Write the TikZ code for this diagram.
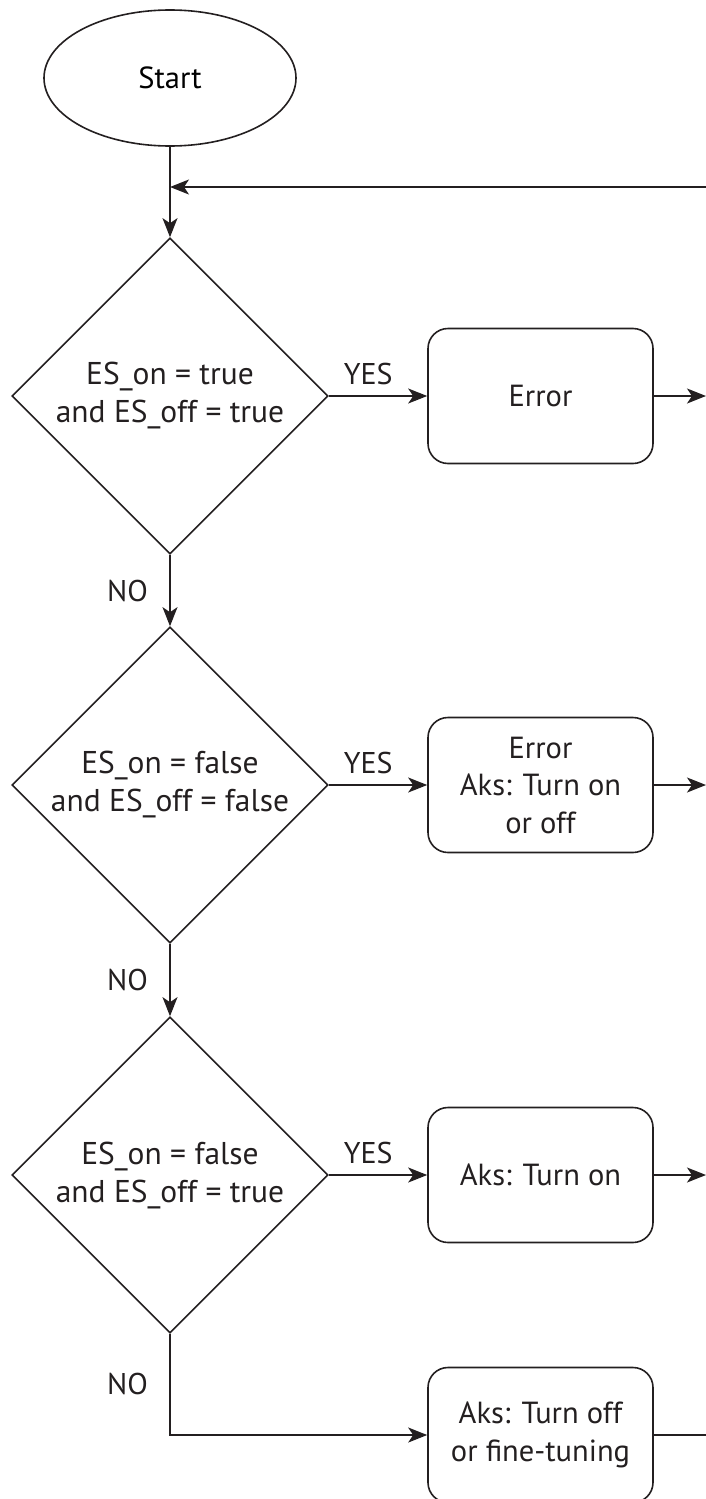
\documentclass[tikz,border=0pt]{standalone}
\usepackage{fontspec}
\setmainfont{PT Sans}
\definecolor{inkblack}{RGB}{35, 31, 32}
\usetikzlibrary{arrows.meta, shapes.geometric}
\tikzset{
	terminal/.style={ellipse, draw=inkblack, line width=1.6pt, minimum width=252pt, minimum height=136pt, inner sep=0pt, font=\fontsize{30.5}{35}\selectfont},
	decision/.style={diamond, aspect=1, draw=inkblack, line width=1.6pt, minimum width=316pt, minimum height=316pt, inner sep=0pt},
	condtext/.style={align=center, font=\fontsize{31.5}{38}\selectfont, text=inkblack},
	process/.style={rectangle, rounded corners=20pt, draw=inkblack, line width=1.6pt, minimum width=225pt, minimum height=135pt, align=center, font=\fontsize{30.5}{37.5}\selectfont, text=inkblack},
	branch/.style={font=\fontsize{30}{35}\selectfont, text=inkblack},
	arrow/.style={-{Stealth[length=19pt, width=15pt, inset=5pt]}, line width=1.6pt, draw=inkblack},
	plain/.style={line width=1.6pt, draw=inkblack},
}
\begin{document}
\begin{tikzpicture}[x=1pt, y=-1pt]
		\useasboundingbox (0,0) rectangle (706,1499);
		\node[terminal] (start) at (170,78) {Start};
		\node[decision] (d1) at (170,396) {};
		\node[condtext] (d1text) at (d1) {ES\_on = true\\and ES\_off = true};
		\node[decision] (d2) at (170,785) {};
		\node[condtext] (d2text) at (d2) {ES\_on = false\\and ES\_off = false};
		\node[decision] (d3) at (170,1175) {};
		\node[condtext] (d3text) at (d3) {ES\_on = false\\and ES\_off = true};
		\node[process] (b1) at (540.5,396) {Error};
		\node[process] (b2) at (540.5,785) {Error\\Aks: Turn on\\or off};
		\node[process] (b3) at (540.5,1175) {Aks: Turn on};
		\node[process] (b4) at (540.5,1435) {Aks: Turn off\\or fine-tuning};
		\coordinate (loopin) at (706,187);
		\coordinate (out1) at (706,396);
		\coordinate (out2) at (706,785);
		\coordinate (out3) at (706,1175);
		\coordinate (out4) at (706,1435);
		% main line
		\draw[arrow] (start) -- (d1);
		\draw[arrow] (loopin) -- (loopin -| start);
		\draw[arrow] (d1) -- node[branch, left, xshift=-18pt] {NO} (d2);
		\draw[arrow] (d2) -- node[branch, left, xshift=-18pt] {NO} (d3);
		\draw[arrow] (d3) |- node[branch, left, pos=0.25, xshift=-18pt] {NO} (b4);
		% yes branches
		\draw[arrow] (d1) -- node[branch, above, pos=0.4, yshift=7pt] {YES} (b1);
		\draw[arrow] (d2) -- node[branch, above, pos=0.4, yshift=7pt] {YES} (b2);
		\draw[arrow] (d3) -- node[branch, above, pos=0.4, yshift=7pt] {YES} (b3);
		\draw[arrow] (b1) -- (out1);
		\draw[arrow] (b2) -- (out2);
		\draw[arrow] (b3) -- (out3);
		\draw[plain] (b4) -- (out4);
	\end{tikzpicture}
\end{document}
